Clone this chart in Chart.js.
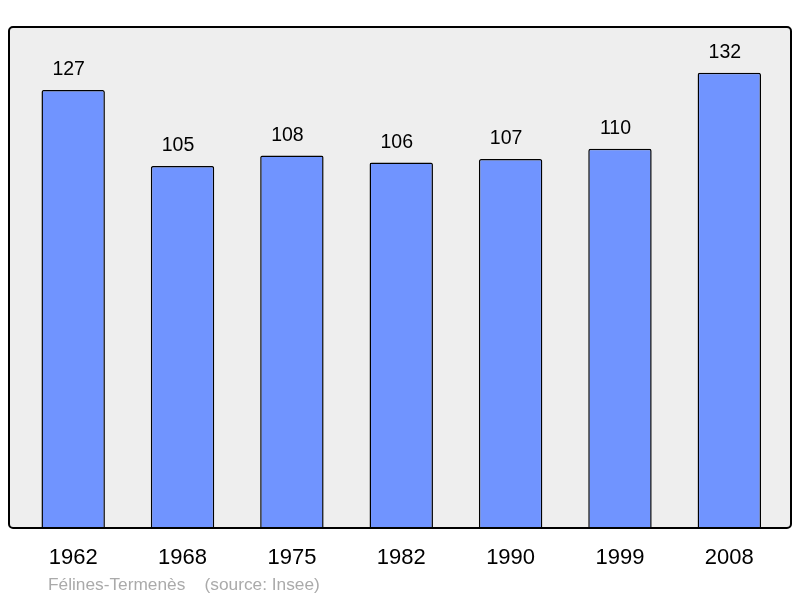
<!DOCTYPE html>
<html>
<head>
<meta charset="utf-8">
<script src="https://cdn.jsdelivr.net/npm/chart.js@4/dist/chart.umd.min.js"></script>
<style>
  html, body { margin: 0; padding: 0; background: #ffffff; }
  #wrap { width: 800px; height: 598px; }
</style>
</head>
<body>
<div id="wrap"><canvas id="chartPopulation"></canvas></div>
<script>
const years = ["1962", "1968", "1975", "1982", "1990", "1999", "2008"];
const population = [127, 105, 108, 106, 107, 110, 132];
const footerText = "Félines-Termenès    (source: Insee)";

const FONT = "'Liberation Sans', Arial, sans-serif";

// grey panel with rounded frame, year labels and footer
const framePlugin = {
    id: 'frame',
    beforeDatasetsDraw(chart) {
        const ctx = chart.ctx, a = chart.chartArea;
        ctx.save();
        ctx.fillStyle = '#eeeeee';
        ctx.beginPath();
        ctx.roundRect(a.left - 9.5, a.top, (a.right + 7) - (a.left - 9.5), a.bottom - a.top, 4);
        ctx.fill();
        ctx.restore();
    },
    afterDatasetsDraw(chart) {
        const ctx = chart.ctx, a = chart.chartArea;
        const meta = chart.getDatasetMeta(0);
        ctx.save();
        // value labels (sit a little left of the bar centre, as in the original)
        ctx.fillStyle = '#000000';
        ctx.font = "19.5px " + FONT;
        ctx.textAlign = 'center';
        ctx.textBaseline = 'alphabetic';
        meta.data.forEach((bar, i) => {
            ctx.fillText(String(population[i]), bar.x - 4.5, bar.y - 15);
        });
        // frame
        ctx.strokeStyle = '#000000';
        ctx.lineWidth = 2;
        ctx.beginPath();
        ctx.roundRect(a.left - 9.5, a.top, (a.right + 7) - (a.left - 9.5), a.bottom - a.top, 4);
        ctx.stroke();
        // year labels
        const x = chart.scales.x;
        ctx.font = "22px " + FONT;
        years.forEach((y, i) => {
            ctx.fillText(y, x.getPixelForValue(i), a.bottom + 36);
        });
        // footer
        ctx.fillStyle = '#aaaaaa';
        ctx.font = "17.3px " + FONT;
        ctx.textAlign = 'left';
        ctx.fillText(footerText, 48, 590);
        ctx.restore();
    }
};

new Chart(document.getElementById('chartPopulation'), {
    type: 'bar',
    data: {
        labels: years,
        datasets: [{
            data: population,
            backgroundColor: '#7094ff',
            borderColor: '#000000',
            borderWidth: 1.5,
            borderRadius: 2,
            borderSkipped: 'bottom',
            barPercentage: 0.58,
            categoryPercentage: 1.0
        }]
    },
    options: {
        responsive: true,
        maintainAspectRatio: false,
        animation: false,
        layout: { padding: { left: 18.5, right: 16, top: 27, bottom: 70 } },
        plugins: { legend: { display: false }, tooltip: { enabled: false } },
        scales: {
            x: { display: false },
            y: { display: false, min: 0, max: 145.3 }
        }
    },
    plugins: [framePlugin]
});
</script>
</body>
</html>
